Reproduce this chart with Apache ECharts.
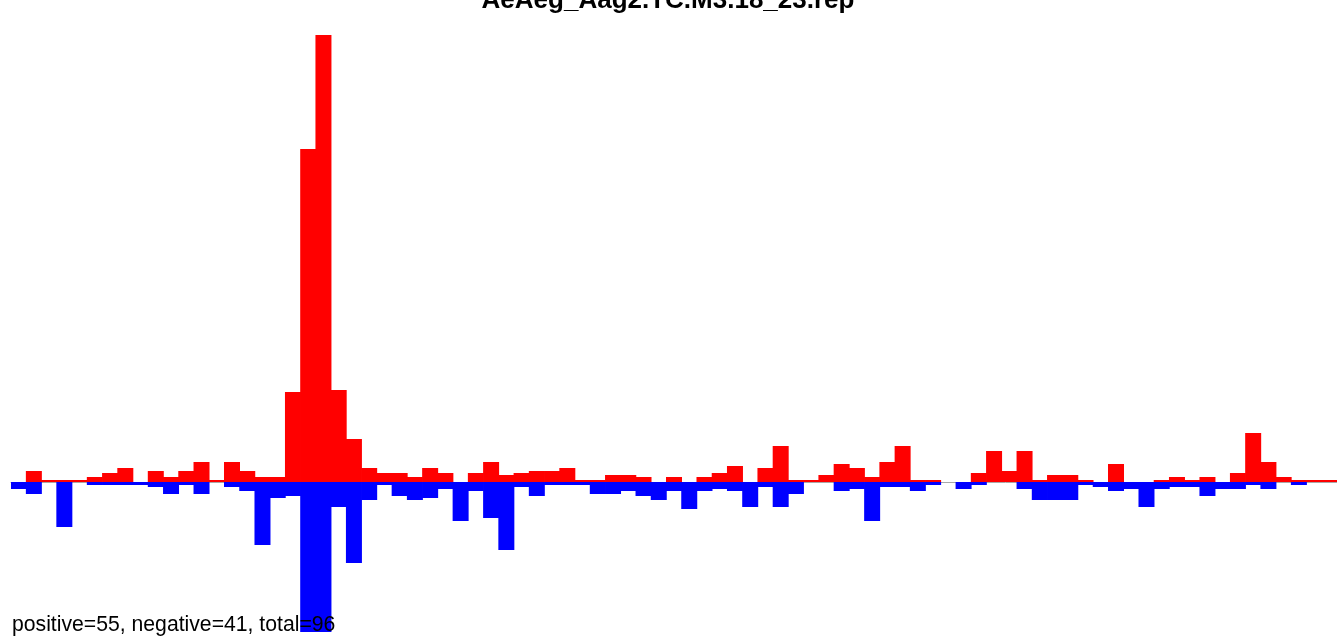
<!DOCTYPE html>
<html>
<head>
<meta charset="utf-8">
<script src="https://cdn.jsdelivr.net/npm/echarts/dist/echarts.min.js"></script>
<style>
html,body{margin:0;padding:0;background:#fff;}
#chart{width:1337px;height:638px;}
</style>
</head>
<body>
<div id="chart"></div>
<script>
var titleText = "AeAeg_Aag2.TC.M3.18_23.rep";
var footerText = "positive=55, negative=41, total=96";

var bins = ["1","2","3","4","5","6","7","8","9","10","11","12","13","14","15","16","17","18","19","20",
"21","22","23","24","25","26","27","28","29","30","31","32","33","34","35","36","37","38","39","40",
"41","42","43","44","45","46","47","48","49","50","51","52","53","54","55","56","57","58","59","60",
"61","62","63","64","65","66","67","68","69","70","71","72","73","74","75","76","77","78","79","80",
"81","82","83","84","85","86","87"];

var positive = [0,11,2,2,2,5,9,14,0,11,5,11,20,2,20,11,5,5,90,333,
447,92,43,14,9,9,5,14,9,0,9,20,7,9,11,11,14,2,2,7,
7,5,0,5,0,5,9,16,0,14,36,2,2,7,18,14,5,20,36,2,
2,0,0,9,31,11,31,2,7,7,2,0,18,0,0,2,5,2,5,0,
9,49,20,5,2,2,2];

var negative = [-7,-12,0,-45,0,-3,-3,-3,-3,-5,-12,-3,-12,0,-5,-9,-63,-16,-14,-150,
-150,-25,-81,-18,-3,-14,-18,-16,-7,-39,-9,-36,-68,-5,-14,-3,-3,-3,-12,-12,
-9,-14,-18,-9,-27,-9,-7,-9,-25,-5,-25,-12,0,0,-9,-7,-39,-5,-5,-9,
-3,0,-7,-3,0,0,-7,-18,-18,-18,-3,-5,-9,-7,-25,-7,-5,-5,-14,-7,
-7,-3,-7,0,-3,0,0];

var chart = echarts.init(document.getElementById('chart'), null, {renderer:'canvas'});
chart.setOption({
  animation:false,
  backgroundColor:'#ffffff',
  grid:{left:11, right:0, top:35, bottom:0, containLabel:false},
  xAxis:{
    type:'category', data:bins, boundaryGap:true,
    axisLine:{show:true, onZero:true, lineStyle:{color:'#a8a8a8', width:1}},
    axisTick:{show:false}, axisLabel:{show:false}, splitLine:{show:false}
  },
  yAxis:{
    type:'value', min:-156, max:447,
    axisLine:{show:false}, axisTick:{show:false}, axisLabel:{show:false}, splitLine:{show:false}
  },
  series:[
    {type:'bar', name:'negative', data:negative, barGap:'-100%', barWidth:16,
     itemStyle:{color:'#0000ff'}, z:2},
    {type:'bar', name:'positive', data:positive, barGap:'-100%', barWidth:16,
     itemStyle:{color:'#ff0000'}, z:3}
  ],
  graphic:[
    {type:'text', x:668, y:1, z:10,
     style:{text:titleText, font:'bold 26px "Liberation Sans", Arial, sans-serif', fill:'#000',
            textAlign:'center', textVerticalAlign:'middle'}},
    {type:'text', x:12, y:624.7, z:10,
     style:{text:footerText, font:'21.2px "Liberation Sans", Arial, sans-serif', fill:'#000',
            textAlign:'left', textVerticalAlign:'middle'}}
  ]
});
</script>
</body>
</html>
